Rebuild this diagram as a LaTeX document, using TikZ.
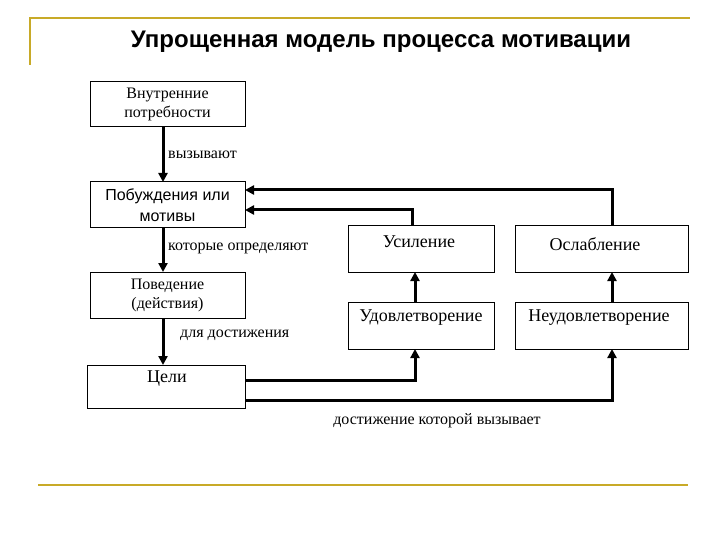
\documentclass[tikz,border=0pt]{standalone}
\usepackage{fontspec}
\setmainfont{Liberation Serif}
\newfontfamily\sansf{Liberation Sans}
\usetikzlibrary{arrows.meta}
\definecolor{gold}{RGB}{200,170,40}
\begin{document}
\begin{tikzpicture}[x=1pt,y=-1pt,
  bx/.style={draw,line width=1pt,align=center,font=\fontsize{16}{19}\selectfont,inner sep=0pt},
  big/.style={font=\fontsize{18}{18}\selectfont},
  lbl/.style={font=\fontsize{16}{16}\selectfont,anchor=west,inner sep=0pt},
  ar/.style={line width=3pt,-{Triangle[length=9pt,width=9pt]}}]
\useasboundingbox (0,0) rectangle (720,540);
\draw[gold,line width=1.5pt] (30,65) -- (30,18) -- (690,18);
\draw[gold,line width=1.5pt] (38,485) -- (688,485);
\node[font=\sansf\bfseries\fontsize{24}{26}\selectfont] (title) at (381,42) {Упрощенная модель процесса мотивации};
\node[bx,minimum width=155,minimum height=45] (n1) at (167.5,104.5) {Внутренние\\потребности};
\node[bx,minimum width=155,minimum height=46,font=\sansf\fontsize{16}{21}\selectfont] (n2) at (167.5,205) {Побуждения или\\мотивы};
\node[bx,minimum width=155,minimum height=46] (n3) at (167.5,295) {Поведение\\(действия)};
\node[bx,minimum width=158,minimum height=43,anchor=north west] (n4) at (87,365) {};
\node[big] (t4) at (167,379) {Цели};
\node[bx,minimum width=146,minimum height=47,anchor=north west] (u) at (348,225) {};
\node[big] (ut) at (419,242) {Усиление};
\node[bx,minimum width=173,minimum height=47,anchor=north west] (o) at (515,225) {};
\node[big] (ot) at (595,244) {Ослабление};
\node[bx,minimum width=146,minimum height=47,anchor=north west] (d) at (348,302) {};
\node[big] (dt) at (421,318) {Удовлетворение};
\node[bx,minimum width=173,minimum height=47,anchor=north west] (nd) at (515,302) {};
\node[big] (ndt) at (599,318) {Неудовлетворение};
\draw[ar] (163,127) -- (163,182);
\draw[ar] (163,228) -- (163,272);
\draw[ar] (163,318) -- (163,365);
\node[lbl] (l1) at (168,155) {вызывают};
\node[lbl] (l2) at (168,248) {которые определяют};
\node[lbl] (l3) at (180,335) {для достижения};
\node[font=\fontsize{16}{16}\selectfont] (l4) at (437,421) {достижение которой вызывает};
\draw[ar] (612,225) -- (612,190) -- (245,190);
\draw[ar] (412,225) -- (412,210) -- (245,210);
\draw[ar] (415,302) -- (415,272);
\draw[ar] (612,302) -- (612,272);
\draw[ar] (245,380) -- (415,380) -- (415,349);
\draw[ar] (245,400) -- (612,400) -- (612,349);
\end{tikzpicture}
\end{document}
